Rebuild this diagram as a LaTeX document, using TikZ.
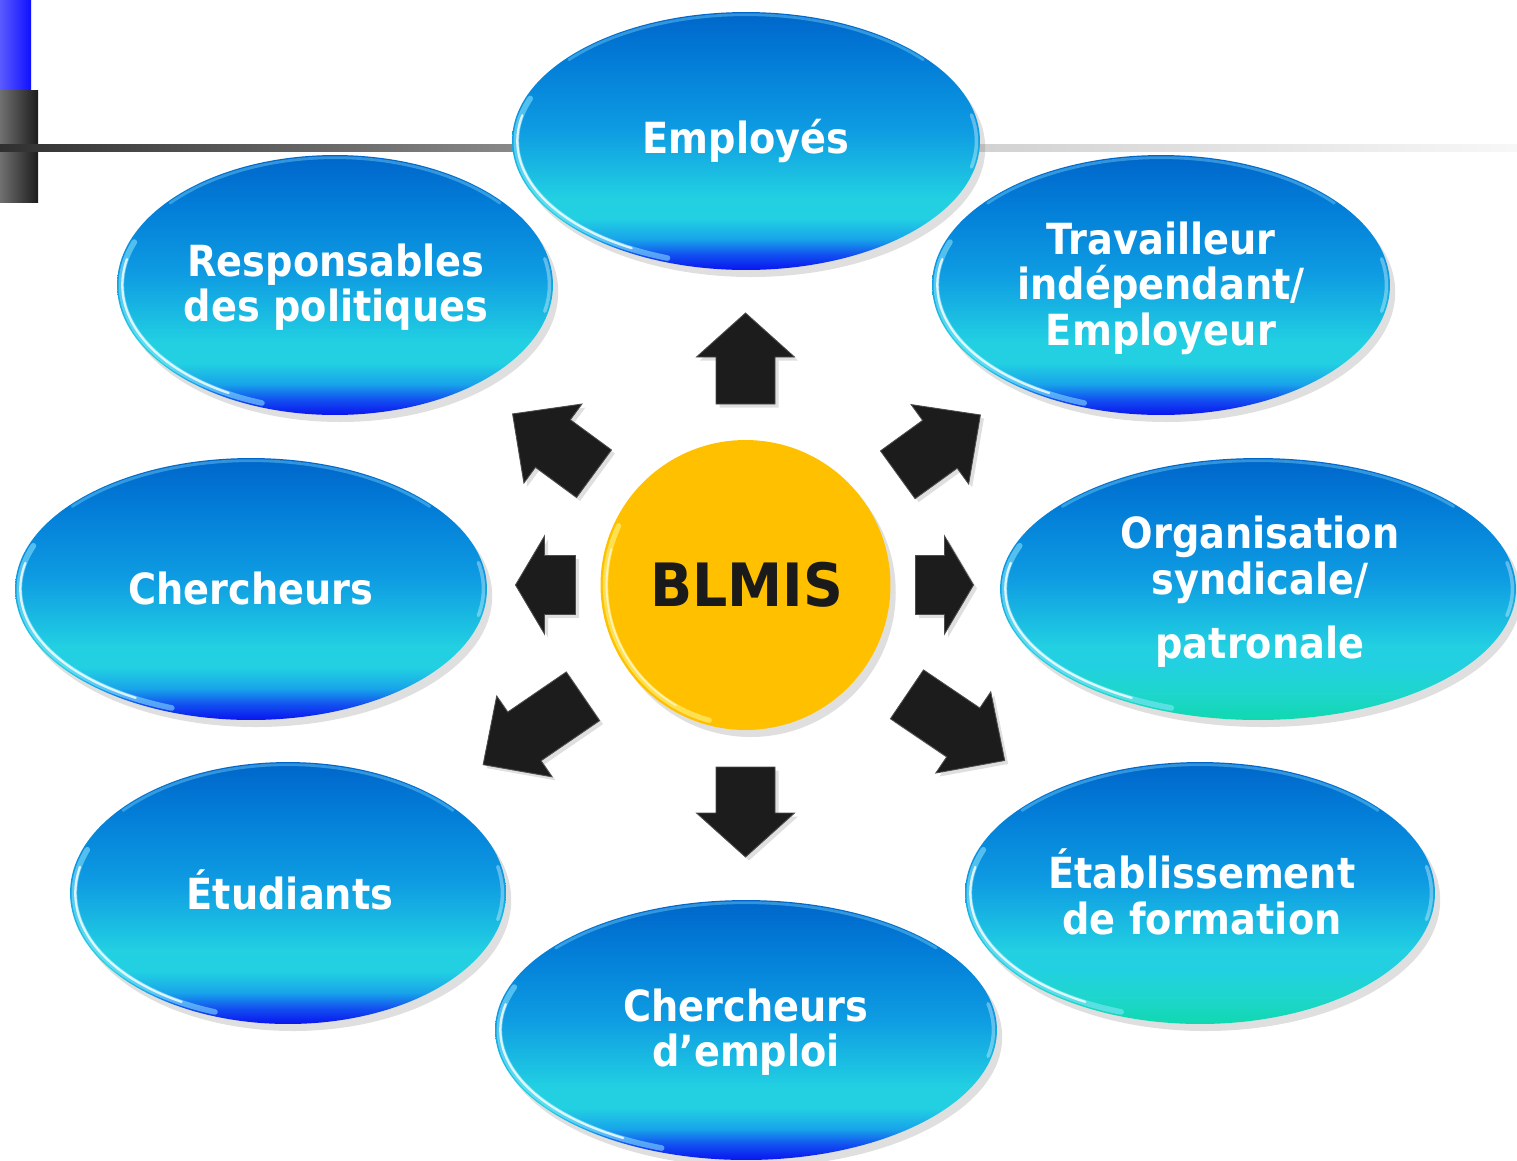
\documentclass[tikz,border=0pt]{standalone}
\usepackage{fontspec}
\setmainfont{DejaVu Sans}
\usetikzlibrary{shapes.geometric,shadows,calc}
\definecolor{bb0}{HTML}{0A14F0}
\definecolor{bb1}{HTML}{1250F0}
\definecolor{bb2}{HTML}{18A4EA}
\definecolor{cy}{HTML}{22D0E2}
\definecolor{mid}{HTML}{0E9CE2}
\definecolor{upb}{HTML}{037ED8}
\definecolor{topb}{HTML}{0066CA}
\definecolor{tl0}{HTML}{10D8B0}
\definecolor{tl1}{HTML}{1ED6CC}
\definecolor{gold}{HTML}{FFC000}
\definecolor{goldlt}{HTML}{FFE45A}
\definecolor{arrowblk}{HTML}{1C1C1C}
\definecolor{lb1}{HTML}{5A5AFF}
\definecolor{lb2}{HTML}{1010FF}
\definecolor{gr1}{HTML}{707070}
\definecolor{gr2}{HTML}{1C1C1C}
\definecolor{ln1}{HTML}{303030}
\definecolor{ln2}{HTML}{8A8A8A}
\definecolor{txtdark}{HTML}{1A1A1A}
\definecolor{rimlt}{HTML}{8FE8FF}
\pgfdeclareverticalshading{bubbleblue}{100bp}{color(0bp)=(bb0); color(25bp)=(bb0); color(28bp)=(bb1); color(31bp)=(bb2); color(35bp)=(cy); color(39bp)=(cy); color(52bp)=(mid); color(65bp)=(upb); color(75bp)=(topb); color(100bp)=(topb)}
\pgfdeclareverticalshading{bubbleteal}{100bp}{color(0bp)=(tl0); color(25bp)=(tl0); color(30bp)=(tl1); color(36bp)=(cy); color(39bp)=(cy); color(52bp)=(mid); color(65bp)=(upb); color(75bp)=(topb); color(100bp)=(topb)}
\newcommand{\mkarrow}[4]{%
  \begin{scope}[shift={(745.5,585)}, rotate=#1]
    \filldraw[arrowstyle] (#2,-29.5) -- ({#3-#4},-29.5) -- ({#3-#4},-49) -- (#3,0) -- ({#3-#4},49) -- ({#3-#4},29.5) -- (#2,29.5) -- cycle;
  \end{scope}}
\begin{document}
\begin{tikzpicture}[x=0.02cm, y=-0.02cm,
  bubble/.style={ellipse, inner sep=0pt, shading=bubbleblue,
    drop shadow={shadow xshift=3pt, shadow yshift=-4pt, opacity=0.25},
    path picture={
      \draw[rimlt, opacity=0.55, line width=3.2pt, line cap=round]
        let \p1=($(path picture bounding box.north east)-(path picture bounding box.center)$) in
        ($(path picture bounding box.center)+(160:{\x1-2.5pt} and {\y1-2.5pt})$)
        arc[start angle=160, end angle=250, x radius=\x1-2.5pt, y radius=\y1-2.5pt];
      \draw[white, opacity=0.8, line width=1.3pt, line cap=round]
        let \p1=($(path picture bounding box.north east)-(path picture bounding box.center)$) in
        ($(path picture bounding box.center)+(168:{\x1-3pt} and {\y1-3pt})$)
        arc[start angle=168, end angle=240, x radius=\x1-3pt, y radius=\y1-3pt];
      \draw[rimlt, opacity=0.35, line width=1.6pt, line cap=round]
        let \p1=($(path picture bounding box.north east)-(path picture bounding box.center)$) in
        ($(path picture bounding box.center)+(40:{\x1-1.5pt} and {\y1-1.5pt})$)
        arc[start angle=40, end angle=140, x radius=\x1-1.5pt, y radius=\y1-1.5pt];
      \draw[white, opacity=0.35, line width=2pt, line cap=round]
        let \p1=($(path picture bounding box.north east)-(path picture bounding box.center)$) in
        ($(path picture bounding box.center)+(-12:{\x1-2pt} and {\y1-2pt})$)
        arc[start angle=-12, end angle=12, x radius=\x1-2pt, y radius=\y1-2pt];
    }},
  tealbubble/.style={bubble, shading=bubbleteal},
  lbl/.style={text=white, font=\fontsize{21.8}{23.2}\selectfont\bfseries, align=center, yscale=1.12, inner sep=0pt},
  arrowstyle/.style={fill=arrowblk, draw=black!70, line width=0.5pt, line join=miter,
    drop shadow={shadow xshift=2pt, shadow yshift=-2pt, opacity=0.25}}
]
\useasboundingbox (0,0) rectangle (1517,1160);
% top-left decoration
\shade[left color=lb1, right color=lb2] (0,0) rectangle (31,90);
\shade[left color=gr1, right color=gr2] (0,90) rectangle (38,202);
\shade[left color=ln1, right color=ln2] (0,144) rectangle (520,151);
\shade[left color=black!18, right color=black!3] (975,144) rectangle (1517,151);
% bubbles
\node[bubble, minimum width=9.36cm, minimum height=5.16cm] (emp) at (746,141) {};
\node[bubble, minimum width=8.72cm, minimum height=5.2cm] (resp) at (335,285) {};
\node[bubble, minimum width=9.16cm, minimum height=5.2cm] (trav) at (1161,285) {};
\node[bubble, minimum width=9.44cm, minimum height=5.24cm] (cher) at (251,589) {};
\node[tealbubble, minimum width=10.32cm, minimum height=5.24cm] (org) at (1258,589) {};
\node[bubble, minimum width=8.72cm, minimum height=5.24cm] (etu) at (288,893) {};
\node[tealbubble, minimum width=9.4cm, minimum height=5.24cm] (etab) at (1200,893) {};
\node[bubble, minimum width=10.04cm, minimum height=5.2cm] (cemp) at (746,1030) {};
% labels
\node[lbl] (emp-t) at (746,141) {Employés};
\node[lbl] (resp-t) at (336,287) {Responsables\\des politiques};
\node[lbl] (trav-t) at (1161,288) {Travailleur\\indépendant/\\Employeur};
\node[lbl] (cher-t) at (251,588) {Chercheurs};
\node[lbl] (org-t) at (1260,592) {Organisation\\syndicale/\\[9.6pt]patronale};
\node[lbl] (etu-t) at (290,890) {Étudiants};
\node[lbl] (etab-t) at (1202,892) {Établissement\\de formation};
\node[lbl] (cemp-t) at (746,1032) {Chercheurs\\d’emploi};
% centre
\node[circle, minimum size=5.8cm, inner sep=0pt, fill=gold,
  drop shadow={shadow xshift=3pt, shadow yshift=-4pt, opacity=0.25},
  path picture={
    \draw[goldlt, opacity=0.9, line width=3pt, line cap=round]
      (path picture bounding box.center) ++(155:2.8cm) arc[start angle=155, end angle=255, radius=2.8cm];
    \draw[white, opacity=0.6, line width=1pt, line cap=round]
      (path picture bounding box.center) ++(165:2.78cm) arc[start angle=165, end angle=240, radius=2.78cm];
  }] (blmis) at (745.5,585) {};
\node[text=txtdark, font=\fontsize{31.5}{34}\selectfont\bfseries, yscale=1.08, inner sep=0pt] (blmis-t) at (746.5,585) {BLMIS};
% arrows
\mkarrow{90}{181}{272}{44}
\mkarrow{270}{182}{272}{44}
\mkarrow{180}{170}{230}{29}
\mkarrow{0}{170}{228}{29}
\mkarrow{143.7}{188}{289}{50}
\mkarrow{35.9}{188}{290}{50}
\mkarrow{214.4}{197}{318}{50}
\mkarrow{325.9}{195}{313}{50}
\end{tikzpicture}
\end{document}
